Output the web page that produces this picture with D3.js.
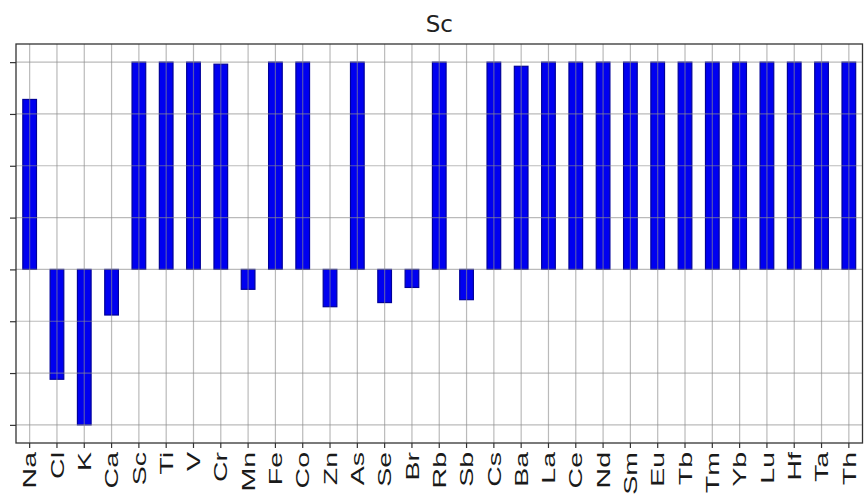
<!DOCTYPE html>
<html>
<head>
<meta charset="utf-8">
<script src="https://cdn.jsdelivr.net/npm/d3@7"></script>
<style>
  html, body { margin: 0; padding: 0; background: #fff; }
  svg { display: block; font-family: "DejaVu Sans", sans-serif; }
</style>
</head>
<body>
<svg id="chart" width="866" height="504"></svg>
<script>
// Correlation of each element with Sc
const elements = ["Na","Cl","K","Ca","Sc","Ti","V","Cr","Mn","Fe","Co","Zn","As","Se","Br","Rb","Sb","Cs","Ba","La","Ce","Nd","Sm","Eu","Tb","Tm","Yb","Lu","Hf","Ta","Th"];
const corrValues = [0.82,-0.53,-0.75,-0.22,1.0,1.0,1.0,0.99,-0.096,1.0,1.0,-0.18,1.0,-0.16,-0.087,1.0,-0.146,1.0,0.98,1.0,1.0,1.0,1.0,1.0,1.0,1.0,1.0,1.0,1.0,1.0,1.0];
const yTicks = [-0.75,-0.5,-0.25,0,0.25,0.5,0.75,1.0];
const chartTitle = "Sc";

const data = elements.map((e, i) => ({ name: e, value: corrValues[i] }));

const margin = { top: 44, right: 3.5, bottom: 61, left: 16 };
const W = 866, H = 504;
const svg = d3.select("#chart");
const innerW = W - margin.left - margin.right;
const innerH = H - margin.top - margin.bottom;

const g = svg.append("g").attr("transform", `translate(${margin.left},${margin.top})`);

// one slot per element, bar half a slot wide
const x = d3.scaleBand().domain(elements).range([0, innerW]).paddingInner(0.5).paddingOuter(0.25);
const vMin = d3.min(corrValues), vMax = d3.max(corrValues);
const pad = (vMax - vMin) * 0.05;
const y = d3.scaleLinear().domain([vMin - pad, vMax + pad]).range([innerH, 0]);

// bars
g.append("g").selectAll("rect").data(data).join("rect")
  .attr("x", d => x(d.name))
  .attr("width", x.bandwidth())
  .attr("y", d => y(Math.max(0, d.value)))
  .attr("height", d => Math.abs(y(d.value) - y(0)))
  .attr("fill", "#0000f0")
  .attr("stroke", "#00009a")
  .attr("stroke-width", 1.2);

// grid on top of bars
const grid = g.append("g").attr("stroke", "#8c8c8c").attr("stroke-opacity", 0.6).attr("stroke-width", 1.2);
grid.selectAll("line.v").data(elements).join("line")
  .attr("class", "v")
  .attr("x1", d => x(d) + x.bandwidth() / 2).attr("x2", d => x(d) + x.bandwidth() / 2)
  .attr("y1", 0).attr("y2", innerH);
grid.selectAll("line.h").data(yTicks).join("line")
  .attr("class", "h")
  .attr("x1", 0).attr("x2", innerW)
  .attr("y1", d => y(d)).attr("y2", d => y(d));

// axes
const xAxis = g.append("g").attr("transform", `translate(0,${innerH})`)
  .call(d3.axisBottom(x).tickSize(5).tickPadding(4).tickSizeOuter(0));
xAxis.select(".domain").remove();
xAxis.selectAll(".tick line").attr("stroke", "#333").attr("stroke-width", 1.2);
xAxis.selectAll(".tick text")
  .attr("font-size", 19)
  .attr("fill", "#1a1a1a")
  .attr("text-anchor", "end")
  .attr("dominant-baseline", "central")
  .attr("dy", null)
  .attr("y", 0)
  .attr("transform", "translate(0,9) rotate(-90) scale(1.5,1)");

const yAxis = g.append("g")
  .call(d3.axisLeft(y).tickValues(yTicks).tickSize(6).tickFormat(""));
yAxis.select(".domain").remove();
yAxis.selectAll(".tick line").attr("stroke", "#333").attr("stroke-width", 1.2);

// frame
g.append("rect").attr("x", 0).attr("y", 0).attr("width", innerW).attr("height", innerH)
  .attr("fill", "none").attr("stroke", "#333").attr("stroke-width", 1.3);

// title
svg.append("text")
  .attr("x", margin.left + innerW / 2).attr("y", 32)
  .attr("text-anchor", "middle")
  .attr("font-size", 23)
  .attr("fill", "#222")
  .text(chartTitle);
</script>
</body>
</html>
